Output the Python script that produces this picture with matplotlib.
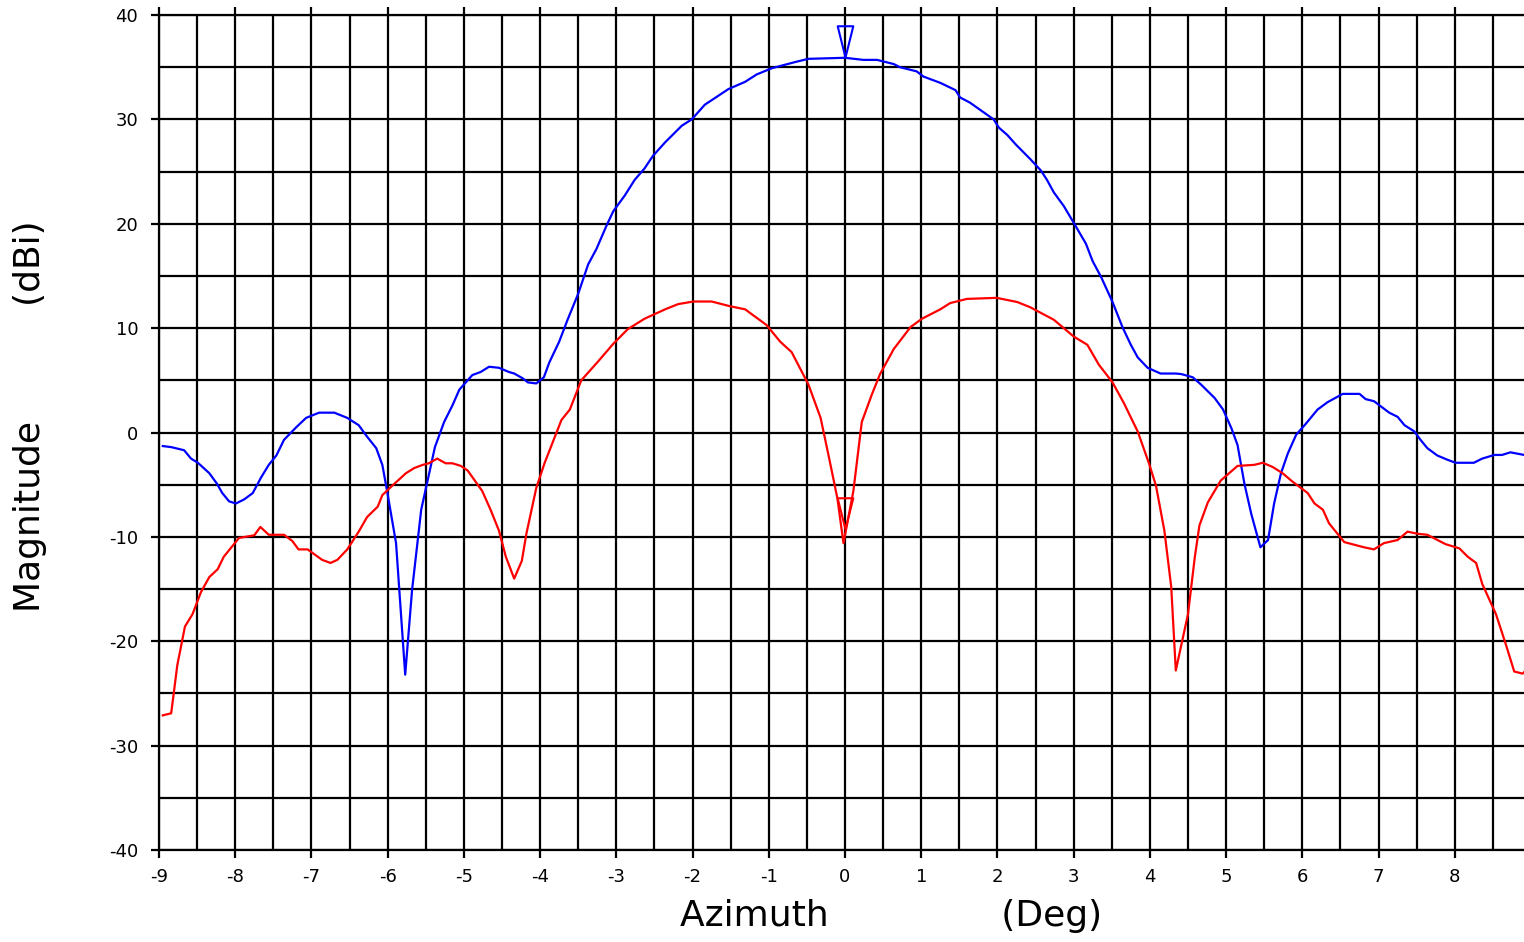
import matplotlib
matplotlib.use("Agg")
import matplotlib.pyplot as plt
from matplotlib.path import Path
from matplotlib.ticker import MultipleLocator

# Co-polar (blue) and difference (red) azimuth patterns
blue_az = [-8.95, -8.84, -8.67, -8.58, -8.49, -8.34, -8.24, -8.17, -8.08, -7.99,
           -7.88, -7.77, -7.66, -7.56, -7.46, -7.36, -7.20, -7.07, -6.90, -6.70,
           -6.53, -6.38, -6.27, -6.15, -6.07, -6.01, -5.89, -5.77, -5.68, -5.56,
           -5.38, -5.26, -5.15, -5.06, -4.89, -4.78, -4.67, -4.54, -4.41, -4.34,
           -4.23, -4.16, -4.05, -3.95, -3.88, -3.75, -3.64, -3.50, -3.37, -3.26,
           -3.13, -3.04, -2.89, -2.76, -2.63, -2.52, -2.36, -2.14, -2.01, -1.84,
           -1.53, -1.31, -1.16, -0.96, -0.65, -0.48, 0.00, 0.24, 0.42, 0.64,
           0.72, 0.94, 1.03, 1.25, 1.45, 1.51, 1.64, 1.95, 2.02, 2.13,
           2.24, 2.43, 2.57, 2.65, 2.74, 2.87, 3.00, 3.16, 3.25, 3.36,
           3.51, 3.64, 3.75, 3.84, 3.97, 4.14, 4.34, 4.41, 4.56, 4.67,
           4.85, 4.96, 5.07, 5.15, 5.24, 5.33, 5.45, 5.55, 5.63, 5.72,
           5.81, 5.92, 6.03, 6.20, 6.33, 6.53, 6.75, 6.83, 6.94, 7.14,
           7.25, 7.34, 7.47, 7.55, 7.64, 7.77, 7.90, 8.01, 8.25, 8.36,
           8.52, 8.62, 8.73, 8.91, 9.00]
blue_db = [-1.3, -1.4, -1.7, -2.5, -2.9, -3.9, -4.9, -5.8, -6.6, -6.8,
           -6.4, -5.8, -4.3, -3.1, -2.2, -0.7, 0.5, 1.4, 1.9, 1.9,
           1.4, 0.7, -0.4, -1.5, -3.1, -5.5, -10.6, -23.2, -15.1, -7.4,
           -1.4, 1.0, 2.6, 4.1, 5.5, 5.8, 6.3, 6.2, 5.8, 5.65,
           5.2, 4.8, 4.7, 5.3, 6.7, 8.7, 10.8, 13.3, 16.1, 17.6,
           19.8, 21.2, 22.7, 24.2, 25.3, 26.5, 27.8, 29.4, 30.0, 31.4,
           32.9, 33.6, 34.3, 34.9, 35.5, 35.8, 35.9, 35.7, 35.7, 35.3,
           35.0, 34.6, 34.1, 33.5, 32.8, 32.1, 31.6, 30.0, 29.2, 28.5,
           27.6, 26.2, 25.1, 24.2, 23.0, 21.7, 20.1, 18.1, 16.4, 14.9,
           12.5, 10.1, 8.4, 7.2, 6.2, 5.65, 5.65, 5.6, 5.3, 4.6,
           3.3, 2.2, 0.4, -1.2, -4.9, -7.8, -11.0, -10.3, -6.8, -3.9,
           -2.0, -0.2, 0.7, 2.2, 2.9, 3.7, 3.7, 3.2, 3.0, 1.9,
           1.5, 0.7, 0.1, -0.7, -1.5, -2.2, -2.6, -2.9, -2.9, -2.5,
           -2.15, -2.15, -1.9, -2.15, -2.1]

red_az = [-8.95, -8.84, -8.76, -8.66, -8.56, -8.45, -8.34, -8.23, -8.15, -7.95,
          -7.75, -7.67, -7.56, -7.36, -7.25, -7.17, -7.05, -6.86, -6.75, -6.66,
          -6.53, -6.38, -6.27, -6.13, -6.07, -5.94, -5.76, -5.65, -5.54, -5.46,
          -5.35, -5.24, -5.15, -5.04, -4.95, -4.76, -4.65, -4.54, -4.45, -4.34,
          -4.24, -4.18, -4.05, -3.94, -3.83, -3.72, -3.61, -3.46, -3.24, -3.04,
          -2.85, -2.63, -2.36, -2.19, -1.99, -1.75, -1.51, -1.31, -1.03, -0.85,
          -0.70, -0.48, -0.32, -0.21, -0.10, -0.02, 0.11, 0.22, 0.35, 0.46,
          0.64, 0.86, 1.01, 1.25, 1.38, 1.60, 1.99, 2.26, 2.43, 2.74,
          3.00, 3.18, 3.33, 3.51, 3.66, 3.84, 3.99, 4.08, 4.19, 4.28,
          4.34, 4.50, 4.59, 4.65, 4.76, 4.93, 5.15, 5.37, 5.48, 5.61,
          5.74, 5.87, 6.07, 6.16, 6.27, 6.35, 6.55, 6.81, 6.94, 7.07,
          7.25, 7.38, 7.51, 7.64, 7.88, 8.06, 8.17, 8.28, 8.36, 8.54,
          8.67, 8.78, 8.89, 9.00]
red_db = [-27.1, -26.9, -22.3, -18.6, -17.4, -15.3, -13.85, -13.1, -11.9, -10.1,
          -9.85, -9.05, -9.8, -9.8, -10.4, -11.2, -11.2, -12.2, -12.5, -12.2,
          -11.2, -9.5, -8.1, -7.1, -6.0, -5.1, -3.9, -3.4, -3.1, -2.95,
          -2.5, -2.95, -2.95, -3.2, -3.65, -5.6, -7.4, -9.4, -11.9, -14.0,
          -12.3, -9.7, -5.3, -2.9, -0.85, 1.2, 2.2, 5.0, 6.8, 8.5,
          9.9, 10.9, 11.8, 12.3, 12.55, 12.55, 12.1, 11.8, 10.3, 8.7,
          7.7, 4.6, 1.4, -2.4, -6.3, -10.6, -5.6, 1.0, 3.6, 5.6,
          8.0, 10.1, 10.9, 11.8, 12.4, 12.8, 12.9, 12.5, 12.0, 10.8,
          9.2, 8.4, 6.5, 4.8, 2.8, 0.1, -3.0, -5.1, -9.4, -14.8,
          -22.8, -17.4, -11.9, -8.9, -6.7, -4.6, -3.2, -3.1, -2.9, -3.3,
          -3.9, -4.7, -5.8, -6.8, -7.4, -8.7, -10.5, -11.0, -11.2, -10.6,
          -10.3, -9.5, -9.7, -9.8, -10.7, -11.1, -11.9, -12.5, -14.5, -17.4,
          -20.3, -22.9, -23.1, -22.3]

# boresight markers (tip at the marked value)
marker_az = [0.0, 0.0]
marker_db = [36.0, -9.2]
marker_colors = ['#0000ff', '#ff0000']

plt.rcParams['font.family'] = 'DejaVu Sans'
plt.rcParams['axes.unicode_minus'] = False

fig = plt.figure(figsize=(15.24, 9.42), dpi=100)
ax = fig.add_axes([159 / 1524, 92 / 942, 1372 / 1524, 835 / 942])

ax.plot(blue_az, blue_db, color='#0000ff', lw=1.6, zorder=3)
ax.plot(red_az, red_db, color='#ff0000', lw=1.6, zorder=3)

# downward open triangle with its tip at the origin
tri = Path([(-0.25, 1.0), (0.25, 1.0), (0.0, 0.0), (-0.25, 1.0)],
           [Path.MOVETO, Path.LINETO, Path.LINETO, Path.CLOSEPOLY])
for mx, my, mc in zip(marker_az, marker_db, marker_colors):
    ax.plot([mx], [my], marker=tri, markersize=45, markerfacecolor='none',
            markeredgecolor=mc, markeredgewidth=1.5, linestyle='none', zorder=4)

ax.set_xlim(-9, 9)
ax.set_ylim(-40, 40)
ax.xaxis.set_major_locator(MultipleLocator(1))
ax.xaxis.set_minor_locator(MultipleLocator(0.5))
ax.yaxis.set_major_locator(MultipleLocator(10))
ax.yaxis.set_minor_locator(MultipleLocator(5))

ax.grid(which='both', color='black', lw=1.6)
ax.set_axisbelow(True)
for sp in ax.spines.values():
    sp.set_linewidth(1.6)
    sp.set_color('black')

ax.tick_params(axis='x', which='major', direction='out', length=6, width=1.6,
               top=True, bottom=True, labelsize=13, pad=7)
ax.tick_params(axis='y', which='major', direction='out', length=6, width=1.6,
               labelsize=13, pad=9)
ax.tick_params(which='minor', length=0)

ax.set_xlabel('Azimuth               (Deg)', fontsize=26)
ax.xaxis.set_label_coords((891 - 159) / 1372, -(899 - 850) / 835)
ax.set_ylabel('Magnitude          (dBi)', fontsize=26)
ax.yaxis.set_label_coords(-(159 - 47) / 1372, (850 - 416) / 835)

fig.savefig('out.png', dpi=100, facecolor='white')
